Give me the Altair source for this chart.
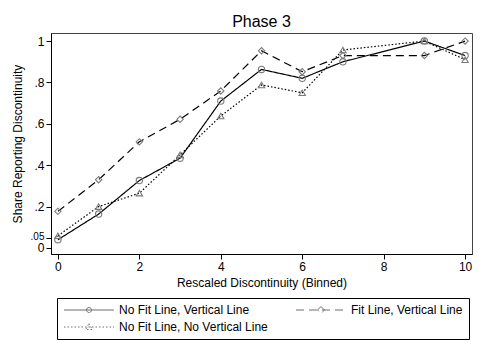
import altair as alt
import pandas as pd

x_vals = [0, 1, 2, 3, 4, 5, 6, 7, 9, 10]
solid_vals = [0.04, 0.164, 0.326, 0.434, 0.71, 0.863, 0.82, 0.90, 1.0, 0.93]
dashed_vals = [0.177, 0.33, 0.513, 0.622, 0.759, 0.953, 0.852, 0.93, 0.93, 1.0]
dotted_vals = [0.059, 0.20, 0.265, 0.45, 0.638, 0.788, 0.75, 0.957, 1.0, 0.91]
series_names = ["No Fit Line, Vertical Line", "Fit Line, Vertical Line", "No Fit Line, No Vertical Line"]
y_ticks = [0, 0.05, 0.2, 0.4, 0.6, 0.8, 1]
x_ticks = [0, 2, 4, 6, 8, 10]

rows = []
for name, vals in zip(series_names, [solid_vals, dashed_vals, dotted_vals]):
    for xv, yv in zip(x_vals, vals):
        rows.append({"series": name, "x": xv, "y": yv})
df = pd.DataFrame(rows)

FONT = "Liberation Sans"

xenc = alt.X("x:Q", scale=alt.Scale(domain=[-0.17, 10.17], nice=False, zero=False),
             axis=alt.Axis(values=x_ticks, title="Rescaled Discontinuity (Binned)", grid=False,
                           format="d", tickSize=5, labelPadding=2, titlePadding=5, labelOverlap=False))
yenc = alt.Y("y:Q", scale=alt.Scale(domain=[-0.029, 1.039], nice=False, zero=False),
             axis=alt.Axis(values=y_ticks, title="Share Reporting Discontinuity", grid=False,
                           tickSize=5, labelPadding=2, titlePadding=6, labelOverlap=False,
                           labelFontSize={"condition": {"test": "datum.value == 0.05", "value": 10}, "value": 12},
                           labelOffset={"condition": {"test": "datum.value == 0.05", "value": -1.5}, "value": 0},
                           labelExpr="datum.value == 0 || datum.value == 1 ? format(datum.value, 'd') : slice(format(datum.value, '.2~f'), 1)"))

dash_scale = alt.Scale(domain=series_names, range=[[1, 0], [8, 5], [1.5, 2]])

lines = alt.Chart(df).mark_line(color="black", strokeWidth=1.2).encode(
    x=xenc, y=yenc,
    strokeDash=alt.StrokeDash("series:N", scale=dash_scale, legend=None),
    detail="series:N",
)

points = alt.Chart(df).mark_point(filled=False, color="#7a7a7a", size=40, strokeWidth=1.1, opacity=1).encode(
    x=xenc, y=yenc,
    shape=alt.Shape("series:N", scale=alt.Scale(domain=series_names, range=["circle", "diamond", "triangle-up"]), legend=None),
)

leg_paths = [
    "M-1,0H9M3.5,0A0.5,0.5 0 1,1 4.5,0A0.5,0.5 0 1,1 3.5,0",
    "M-1,0H9M4,-0.7L4.7,0L4,0.7L3.3,0Z",
    "M-1,0H9M4,-0.7L4.65,0.5L3.35,0.5Z",
]
legend = alt.Legend(title=None, orient="none", legendX=6, legendY=265, direction="horizontal", columns=2,
                    columnPadding=26, rowPadding=5, strokeColor="black", padding=6, labelFontSize=12,
                    labelFont=FONT, labelColor="black", symbolSize=100, symbolStrokeWidth=1,
                    symbolStrokeColor="#333", labelOffset=44)
dummy = alt.Chart(df).mark_point(filled=False, color="black", size=0).encode(
    x=xenc, y=yenc,
    shape=alt.Shape("series:N", scale=alt.Scale(domain=series_names, range=leg_paths), legend=legend),
    strokeDash=alt.StrokeDash("series:N", scale=dash_scale, legend=legend),
)

chart = alt.layer(lines, points, dummy).resolve_scale(
    shape="independent", strokeDash="independent"
).properties(
    width=421, height=221,
    title=alt.Title("Phase 3", fontSize=16, font=FONT, fontWeight="normal", color="black", offset=3),
    autosize=alt.AutoSizeParams(type="none"),
    padding={"left": 43, "top": 25, "right": 5, "bottom": 90},
).configure_view(stroke="#444", strokeWidth=1).configure_axis(
    domainColor="black", tickColor="black", labelColor="black", titleColor="black",
    labelFont=FONT, titleFont=FONT, labelFontSize=12, titleFontSize=12, titleFontWeight="normal",
    labelOverlap=False,
).configure_axisY(labelAngle=0)

chart.save("out.html", embed_options={"renderer": "svg", "actions": False})
